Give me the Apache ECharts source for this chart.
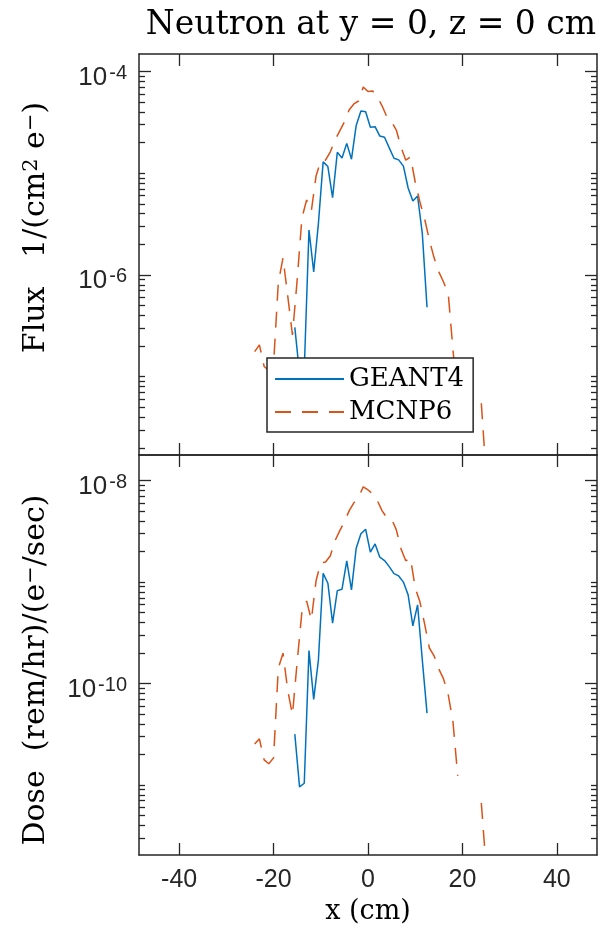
<!DOCTYPE html>
<html>
<head>
<meta charset="utf-8">
<script src="https://cdn.jsdelivr.net/npm/echarts@6.0.0/dist/echarts.min.js"></script>
<style>
  html, body { margin: 0; padding: 0; background: #fff; }
  #chart { width: 606px; height: 931px; }
</style>
</head>
<body>
<div id="chart"></div>
<script>
// neutron flux / dose along x, GEANT4 vs MCNP6

var g4X = [-15.5, -14.5, -13.5, -12.5, -11.5, -10.5, -9.5, -8.5, -7.5, -6.5, -5.5, -4.5, -3.5, -2.5, -1.5,
    -0.5, 0.5, 1.5, 2.5, 3.5, 4.5, 5.5, 6.5, 7.5, 8.5, 9.5, 10.5, 11.5, 12.5];
var g4Flux = [3.05e-7, 1.07e-7, 1.17e-7, 2.76e-6, 1.07e-6, 3.21e-6, 1.29e-5, 1.16e-5, 5.73e-6, 1.60e-5, 1.41e-5,
    1.96e-5, 1.37e-5, 2.94e-5, 4.07e-5, 4.01e-5, 2.82e-5, 2.86e-5, 2.31e-5, 2.25e-5, 1.77e-5, 1.40e-5, 1.35e-5,
    1.17e-5, 7.14e-6, 5.32e-6, 5.96e-6, 2.56e-6, 4.81e-7];
var g4Dose = [3.17e-11, 9.59e-12, 1.04e-11, 2.11e-10, 6.97e-11, 1.71e-10, 1.22e-9, 9.75e-10, 3.94e-10, 8.24e-10,
    8.51e-10, 1.62e-9, 8.38e-10, 2.16e-9, 2.99e-9, 3.32e-9, 1.97e-9, 2.38e-9, 1.76e-9, 1.63e-9, 1.42e-9, 1.21e-9,
    1.15e-9, 1.00e-9, 7.48e-10, 3.70e-10, 5.96e-10, 1.71e-10, 5.11e-11];

var mcX = [-24, -23, -22, -21, -20, -19, -18, -17, -16, -15, -14, -13, -12, -11, -10, -9, -8, -7, -6, -5, -4, -3,
    -2, -1, 0, 1, 2, 3, 4, 5, 6, 7, 8, 9, 10, 11, 12, 13, 14, 15, 16, 17, 18, 19, 20, 21, 22, 23, 24, 25];
var mcFlux = [1.76e-7, 2.05e-7, 1.26e-7, 1.15e-7, 1.32e-7, 8.32e-7, 1.47e-6, 6.21e-7, 2.57e-7, 8.91e-7, 3.62e-6,
    5.45e-6, 4.25e-6, 9.38e-6, 1.32e-5, 1.34e-5, 1.61e-5, 2.11e-5, 2.59e-5, 3.18e-5, 4.17e-5, 4.78e-5, 5.11e-5,
    7.01e-5, 6.34e-5, 6.40e-5, 5.60e-5, 4.56e-5, 3.56e-5, 3.18e-5, 2.65e-5, 1.80e-5, 1.34e-5, 1.44e-5, 8.18e-6,
    5.20e-6, 3.54e-6, 2.20e-6, 1.47e-6, 1.07e-6, 8.51e-7, 6.49e-7, 1.83e-7, 5.62e-8, null, null, null, null,
    5.48e-8, 1.12e-8];
var mcDose = [2.53e-11, 2.85e-11, 1.77e-11, 1.62e-11, 1.85e-11, 1.41e-10, 1.99e-10, 8.57e-11, 4.92e-11, 1.64e-10,
    5.08e-10, 6.52e-10, 4.24e-10, 1.03e-9, 1.55e-9, 1.58e-9, 1.81e-9, 2.55e-9, 3.20e-9, 3.92e-9, 5.04e-9, 6.04e-9,
    6.90e-9, 8.67e-9, 8.09e-9, 7.40e-9, 6.31e-9, 5.04e-9, 4.30e-9, 4.20e-9, 3.27e-9, 2.12e-9, 1.62e-9, 1.73e-9,
    8.77e-10, 6.38e-10, 3.85e-10, 2.24e-10, 1.87e-10, 1.39e-10, 1.11e-10, 7.71e-11, 4.18e-11, 1.23e-11, null, null,
    null, null, 6.64e-12, 1.58e-12];

var xTicks = [-40, -20, 0, 20, 40];
var fluxTicks = [1e-6, 1e-4];
var doseTicks = [1e-10, 1e-8];

var xMin = -48.5, xMax = 48.5;
var fluxMin = 1.70e-8, fluxMax = 1.48e-4;
var doseMin = 2.04e-12, doseMax = 1.79e-8;

var ink = '#262626';
var blue = '#0072BD';
var orange = '#D95319';
var serif = 'DejaVu Serif';
var sans = 'Liberation Sans';

function pairs(xs, ys) {
    return xs.map(function (x, i) { return [x, ys[i]]; });
}

// 2..9 x 10^k plus the unlabeled decades, inside [lo, hi]
function minorTicks(lo, hi, majors) {
    var out = [];
    var k0 = Math.floor(Math.log10(lo)), k1 = Math.ceil(Math.log10(hi));
    for (var k = k0; k <= k1; k++) {
        for (var m = 1; m <= 9; m++) {
            var v = m * Math.pow(10, k);
            if (v < lo || v > hi) continue;
            if (m === 1 && majors.some(function (t) { return Math.round(Math.log10(t)) === k; })) continue;
            out.push(v);
        }
    }
    return out;
}

function xAx(grid, pos, labels, name) {
    return {
        type: 'value', gridIndex: grid, position: pos, min: xMin, max: xMax,
        name: name || '', nameLocation: 'middle', nameGap: 43,
        nameTextStyle: {fontFamily: serif, fontSize: 27, color: '#000'},
        axisLine: {onZero: false, lineStyle: {color: ink, width: 1.5}},
        axisTick: {inside: true, length: 12, customValues: xTicks, lineStyle: {color: ink, width: 1.3}},
        axisLabel: {show: labels, customValues: xTicks, margin: 13, fontFamily: sans, fontSize: 25, color: ink},
        splitLine: {show: false}
    };
}

function powLabel(v) {
    return '{b|10}{s|' + Math.round(Math.log10(v)) + '}';
}

// shift moves the rotated name along the axis: >0 up, <0 down
function yAx(grid, pos, lo, hi, ticks, len, withLabels, name, shift) {
    var ax = {
        type: 'log', gridIndex: grid, position: pos, min: lo, max: hi,
        axisLine: {show: len > 6, onZero: false, lineStyle: {color: ink, width: 1.5}},
        axisTick: {inside: true, length: len, customValues: ticks, lineStyle: {color: ink, width: 1.3}},
        axisLabel: {show: false},
        splitLine: {show: false}
    };
    if (withLabels) {
        ax.axisLabel = {
            show: true, customValues: ticks, margin: 12, formatter: powLabel,
            rich: {
                b: {fontFamily: sans, fontSize: 26, color: ink, lineHeight: 26, padding: [12, 0, 0, 0]},
                s: {fontFamily: sans, fontSize: 20, color: ink, lineHeight: 20, verticalAlign: 'top', padding: [5, 0, 0, 2]}
            }
        };
        ax.name = name;
        ax.nameLocation = 'middle';
        ax.nameGap = 88;
        ax.nameTextStyle = {
            fontFamily: serif, fontSize: 30, color: '#000',
            padding: shift > 0 ? [0, 0, 0, 2 * shift] : [0, -2 * shift, 0, 0],
            rich: {sup: {fontFamily: serif, fontSize: 21, color: '#000', verticalAlign: 'top'}}
        };
    }
    return ax;
}

var fluxMinor = minorTicks(fluxMin, fluxMax, fluxTicks);
var doseMinor = minorTicks(doseMin, doseMax, doseTicks);

var chart = echarts.init(document.getElementById('chart'), null, {renderer: 'canvas'});

var option = {
    animation: false,
    backgroundColor: '#fff',
    title: {
        text: 'Neutron at y = 0, z = 0 cm',
        left: 366, top: 4, textAlign: 'center',
        textStyle: {fontFamily: serif, fontSize: 33, fontWeight: 'normal', color: '#000'}
    },
    legend: {
        data: ['GEANT4', 'MCNP6'],
        orient: 'vertical',
        left: 267, top: 358,
        itemWidth: 69, itemHeight: 14, itemGap: 3,
        padding: [6, 9, 5, 7],
        backgroundColor: '#fff',
        borderColor: ink, borderWidth: 1.5, borderRadius: 0,
        itemStyle: {opacity: 0},
        textStyle: {fontFamily: serif, fontSize: 26, color: '#000', lineHeight: 30}
    },
    grid: [
        {left: 139, top: 54, width: 458, height: 401},
        {left: 139, top: 455, width: 458, height: 400}
    ],
    xAxis: [
        xAx(0, 'bottom', false),
        xAx(0, 'top', false),
        xAx(1, 'bottom', true, 'x (cm)'),
        xAx(1, 'top', false)
    ],
    yAxis: [
        yAx(0, 'left', fluxMin, fluxMax, fluxTicks, 12, true, 'Flux   1/(cm{sup|2} e{sup|\u2212})', 27),
        yAx(0, 'left', fluxMin, fluxMax, fluxMinor, 6, false),
        yAx(0, 'right', fluxMin, fluxMax, fluxTicks, 12, false),
        yAx(0, 'right', fluxMin, fluxMax, fluxMinor, 6, false),
        yAx(1, 'left', doseMin, doseMax, doseTicks, 12, true, 'Dose  (rem/hr)/(e{sup|\u2212}/sec)', -15),
        yAx(1, 'left', doseMin, doseMax, doseMinor, 6, false),
        yAx(1, 'right', doseMin, doseMax, doseTicks, 12, false),
        yAx(1, 'right', doseMin, doseMax, doseMinor, 6, false)
    ],
    series: [
        {name: 'GEANT4', type: 'line', xAxisIndex: 0, yAxisIndex: 0, data: pairs(g4X, g4Flux),
            symbol: 'none', lineStyle: {color: blue, width: 1.5}, itemStyle: {color: blue}},
        {name: 'MCNP6', type: 'line', xAxisIndex: 0, yAxisIndex: 0, data: pairs(mcX, mcFlux),
            symbol: 'none', lineStyle: {color: orange, width: 1.5, type: [16, 11]}, itemStyle: {color: orange}},
        {name: 'GEANT4', type: 'line', xAxisIndex: 2, yAxisIndex: 4, data: pairs(g4X, g4Dose),
            symbol: 'none', lineStyle: {color: blue, width: 1.5}, itemStyle: {color: blue}},
        {name: 'MCNP6', type: 'line', xAxisIndex: 2, yAxisIndex: 4, data: pairs(mcX, mcDose),
            symbol: 'none', lineStyle: {color: orange, width: 1.5, type: [16, 11]}, itemStyle: {color: orange}}
    ]
};

chart.setOption(option);
</script>
</body>
</html>
